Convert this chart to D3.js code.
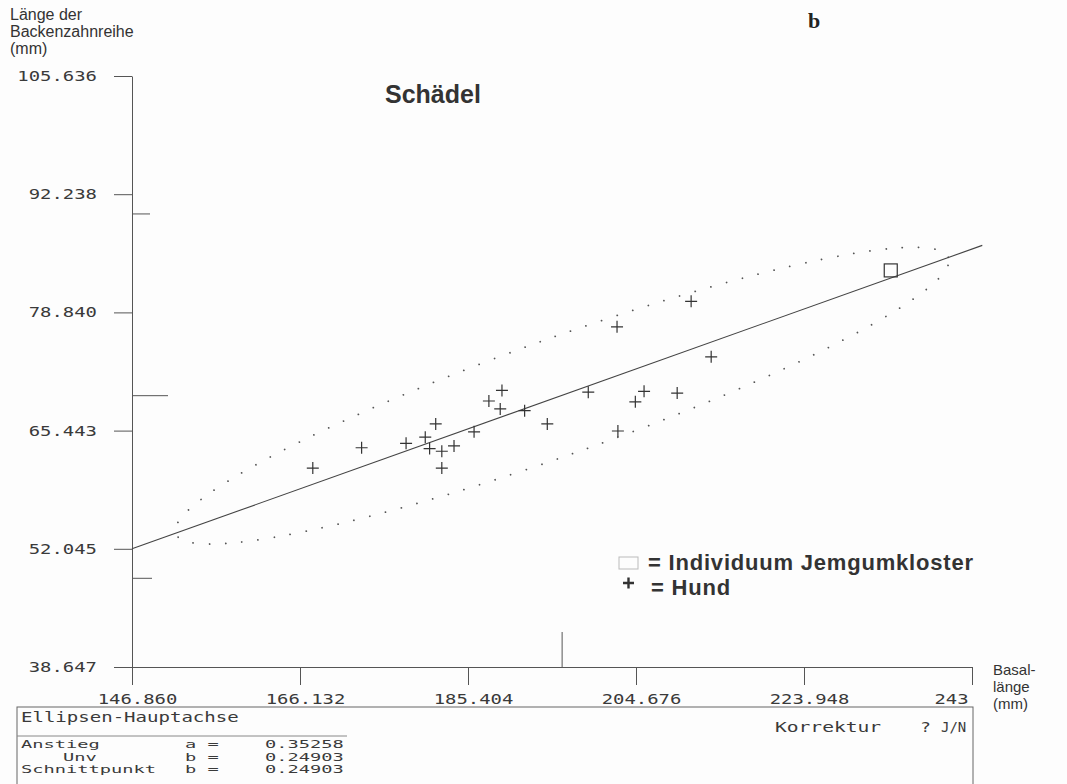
<!DOCTYPE html>
<html>
<head>
<meta charset="utf-8">
<script src="https://cdn.jsdelivr.net/npm/d3@7"></script>
<style>
  body { margin: 0; background: #fdfdfd; }
  .mono { font-family: "DejaVu Sans Mono", monospace; fill: #3a3a3a; }
  .sans { font-family: "Liberation Sans", Arial, sans-serif; fill: #333; }
</style>
</head>
<body>
<script>
// axis ticks as printed
const xTicks = [146.860, 166.132, 185.404, 204.676, 223.948, 243.22];
const xTickLabels = ["146.860", "166.132", "185.404", "204.676", "223.948", "243"];
const yTicks = [38.647, 52.045, 65.443, 78.840, 92.238, 105.636];
const yTickLabels = ["38.647", "52.045", "65.443", "78.840", "92.238", "105.636"];

// Hund (+): Basallänge / Länge der Backenzahnreihe
const hundX = [167.6, 173.2, 178.3, 180.5, 181.7, 181.0, 182.4, 182.4, 183.8, 186.1, 187.8, 189.3,
               189.1, 191.9, 194.5, 199.2, 202.6, 204.6, 205.6, 202.5, 211.0, 213.3, 209.4];
const hundY = [61.2, 63.5, 64.0, 64.7, 66.2, 63.4, 63.1, 61.2, 63.7, 65.3, 68.8, 70.0,
               67.9, 67.7, 66.2, 69.8, 65.4, 68.7, 69.9, 77.2, 80.1, 73.8, 69.7];
// Individuum Jemgumkloster
const jemX = [233.9];
const jemY = [83.6];

// Ellipsen-Hauptachse
const slope = 0.35258;
const lineStart = [146.86, 52.045];
const lineEndX = 244.4;
const center = [196.2, 69.4];
const ellipseAxes = [47, 6.6];   // halbe Haupt- / Nebenachse
const yMarks = [90.0, 69.4, 48.7];
const xMark = 196.2;

const tableRows = [
  ["Anstieg", "a =", "0.35258"],
  ["Unv", "b =", "0.24903"],
  ["Schnittpunkt", "b =", "0.24903"]
];

const width = 1067, height = 784;
const SX = 1.35; // DOS font is wide: stretch mono glyphs horizontally

const svg = d3.select("body").append("svg")
    .attr("width", width)
    .attr("height", height);

const x = d3.scaleLinear().domain([146.86, 243.22]).range([132, 972]);
const y = d3.scaleLinear().domain([38.647, 105.636]).range([667, 76]);

// y axis
const gy = svg.append("g")
    .attr("transform", "translate(" + x(146.86) + ",0)")
    .call(d3.axisLeft(y)
        .tickValues(yTicks)
        .tickFormat((d, i) => yTickLabels[i])
        .tickSize(18)
        .tickSizeOuter(0)
        .tickPadding(17));

// x axis
const gx = svg.append("g")
    .attr("transform", "translate(0," + y(38.647) + ")")
    .call(d3.axisBottom(x)
        .tickValues(xTicks)
        .tickFormat((d, i) => xTickLabels[i])
        .tickSize(18)
        .tickSizeOuter(0)
        .tickPadding(9));

[gx, gy].forEach(g => {
    g.select(".domain").attr("stroke", "#555");
    g.selectAll(".tick line").attr("stroke", "#555");
    g.selectAll(".tick text")
        .attr("class", "mono")
        .attr("fill", "#3a3a3a")
        .style("font-size", "14px")
        .attr("transform", "scale(" + SX + ",1)");
});
gy.selectAll(".tick text").attr("x", -35 / SX);
gx.selectAll(".tick text").attr("dx", 5 / SX);
gx.selectAll(".tick text").filter((d, i) => i === xTicks.length - 1)
    .attr("text-anchor", "end").attr("dx", -4 / SX);

// marker strokes on the axes
const markLen = [18, 36, 20];
svg.append("g").selectAll("line")
    .data(yMarks)
    .join("line")
    .attr("x1", x(146.86))
    .attr("x2", (d, i) => x(146.86) + markLen[i])
    .attr("y1", d => y(d))
    .attr("y2", d => y(d))
    .attr("stroke", "#555");

svg.append("line")
    .attr("x1", x(xMark)).attr("x2", x(xMark))
    .attr("y1", y(38.647)).attr("y2", y(38.647) - 35)
    .attr("stroke", "#555");

// ellipse (dotted)
const th = Math.atan(slope);
const cx = x(center[0]), cy = y(center[1]);
const tip = [x(center[0] + ellipseAxes[0] * Math.cos(th)), y(center[1] + ellipseAxes[0] * Math.sin(th))];
const side = [x(center[0] - ellipseAxes[1] * Math.sin(th)), y(center[1] + ellipseAxes[1] * Math.cos(th))];
const rx = Math.hypot(tip[0] - cx, tip[1] - cy);
const ry = Math.hypot(side[0] - cx, side[1] - cy);
const ang = Math.atan2(tip[1] - cy, tip[0] - cx) * 180 / Math.PI;

svg.append("ellipse")
    .attr("cx", cx).attr("cy", cy)
    .attr("rx", rx).attr("ry", ry)
    .attr("transform", "rotate(" + ang + "," + cx + "," + cy + ")")
    .attr("fill", "none")
    .attr("stroke", "#555")
    .attr("stroke-width", 1.8)
    .attr("stroke-linecap", "round")
    .attr("stroke-dasharray", "0 16.3")
    .attr("stroke-dashoffset", -8);

// main axis line
const lineFn = d3.line()
    .x(d => x(d))
    .y(d => y(lineStart[1] + slope * (d - lineStart[0])));
svg.append("path")
    .attr("d", lineFn([lineStart[0], lineEndX]))
    .attr("fill", "none")
    .attr("stroke", "#444")
    .attr("stroke-width", 1.1);

// Hund points
svg.append("g").selectAll("path")
    .data(hundX.map((d, i) => [d, hundY[i]]))
    .join("path")
    .attr("transform", d => "translate(" + x(d[0]) + "," + y(d[1]) + ")")
    .attr("d", "M-6,0H6M0,-6V6")
    .attr("stroke", "#333")
    .attr("stroke-width", 1.2);

// Jemgumkloster
svg.append("g").selectAll("rect")
    .data(jemX.map((d, i) => [d, jemY[i]]))
    .join("rect")
    .attr("x", d => x(d[0]) - 6.5)
    .attr("y", d => y(d[1]) - 6.5)
    .attr("width", 13)
    .attr("height", 13)
    .attr("fill", "none")
    .attr("stroke", "#333")
    .attr("stroke-width", 1.2);

// titles
svg.append("text").attr("class", "sans")
    .attr("x", 385).attr("y", 103)
    .style("font-size", "25px").style("font-weight", "bold")
    .text("Schädel");

svg.append("text")
    .attr("x", 808).attr("y", 28)
    .style("font-family", "'Liberation Serif', serif")
    .style("font-size", "22px").style("font-weight", "bold")
    .attr("fill", "#222")
    .text("b");

const yLab = svg.append("text").attr("class", "sans").style("font-size", "16px");
["Länge der", "Backenzahnreihe", "(mm)"].forEach((t, i) => {
    yLab.append("tspan").attr("x", 10).attr("y", 20 + i * 17).text(t);
});
const xLab = svg.append("text").attr("class", "sans").style("font-size", "15px");
["Basal-", "länge", "(mm)"].forEach((t, i) => {
    xLab.append("tspan").attr("x", 993).attr("y", 675 + i * 17).text(t);
});

// legend
svg.append("rect")
    .attr("x", 619).attr("y", 557).attr("width", 19).attr("height", 12)
    .attr("fill", "none").attr("stroke", "#bbb");
svg.append("text").attr("class", "sans")
    .attr("x", 648).attr("y", 570)
    .style("font-size", "22px").style("font-weight", "bold")
    .style("letter-spacing", "0.8px")
    .attr("fill", "#3a3a3a")
    .text("= Individuum Jemgumkloster");
svg.append("path")
    .attr("d", "M623,583H634M628.5,577.5V588.5")
    .attr("stroke", "#333").attr("stroke-width", 2.4);
svg.append("text").attr("class", "sans")
    .attr("x", 651).attr("y", 595)
    .style("font-size", "22px").style("font-weight", "bold")
    .style("letter-spacing", "0.8px")
    .attr("fill", "#3a3a3a")
    .text("= Hund");

// result box
function mono(px, py, txt, size, sx) {
    return svg.append("text").attr("class", "mono")
        .attr("transform", "translate(" + px + "," + py + ") scale(" + sx + ",1)")
        .style("font-size", size + "px")
        .text(txt);
}

svg.append("rect")
    .attr("x", 17).attr("y", 707).attr("width", 956).attr("height", 100)
    .attr("fill", "none").attr("stroke", "#666");
mono(21, 722, "Ellipsen-Hauptachse", 14, 1.36);
svg.append("line")
    .attr("x1", 17).attr("x2", 347).attr("y1", 736).attr("y2", 736)
    .attr("stroke", "#888");

tableRows.forEach((r, i) => {
    const by = 748 + i * 12.5;
    mono(i === 1 ? 63 : 21, by, r[0], 10.5, 1.78);
    mono(185, by, r[1], 10.5, 1.78);
    mono(265, by, r[2], 10.5, 1.78);
});

mono(775, 732, "Korrektur", 14, 1.4);
mono(920, 732, "?", 14, 1.3);
mono(941, 732, "J/N", 14, 1.0);
</script>
</body>
</html>
